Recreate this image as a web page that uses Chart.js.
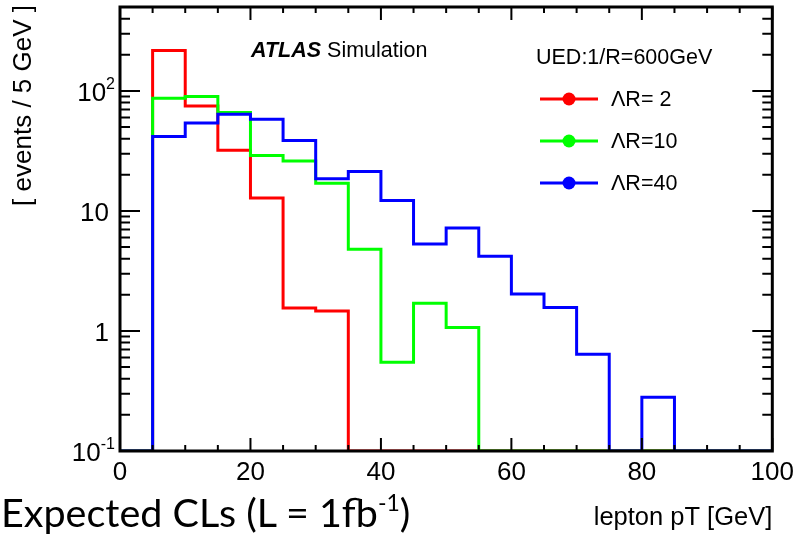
<!DOCTYPE html>
<html>
<head>
<meta charset="utf-8">
<script src="https://cdn.jsdelivr.net/npm/chart.js@4.4.1/dist/chart.umd.min.js"></script>
<style>
  html,body{margin:0;padding:0;background:#fff;}
  #wrap{position:relative;width:800px;height:534px;overflow:hidden;}
  #c{position:absolute;left:0;top:0;}
  #slideText{position:absolute;left:1px;top:489px;font-family:Lato,"Open Sans",sans-serif;font-size:39.5px;line-height:46px;color:#000;white-space:nowrap;}
  #slideText sup{font-size:23px;line-height:0;vertical-align:16px;}
</style>
</head>
<body>
<div id="wrap">
  <canvas id="c" width="800" height="534"></canvas>
  <div id="slideText">Expected CLs (L = 1fb<sup>-1</sup>)</div>
</div>
<script>
// bin edges of lepton pT [GeV], 5 GeV bins
const BIN_EDGES=[0,5,10,15,20,25,30,35,40,45,50,55,60,65,70,75,80,85,90,95,100];
// events / 5 GeV per bin (0 = empty bin)
const LAMBDA_R2 =[0,217,75,32,12.8,1.55,1.47,0,0,0,0,0,0,0,0,0,0,0,0,0];
const LAMBDA_R10=[0,87,90,66,29,26,17,4.8,0.55,1.7,1.07,0,0,0,0,0,0,0,0,0];
const LAMBDA_R40=[0,41.6,54,64,58,38.6,18.5,21.3,12.2,5.3,7.2,4.2,2.03,1.57,0.64,0,0.28,0,0,0];
const SERIES_LABELS=['\u039BR= 2','\u039BR=10','\u039BR=40'];
const SERIES_COLORS=['#ff0000','#00ff00','#0000ff'];
const X_MIN=0, X_MAX=100, Y_MIN=0.1, Y_MAX=500;
const Y_LABELS=[{v:0.1,b:'10',e:'-1'},{v:1,b:'1'},{v:10,b:'10'},{v:100,b:'10',e:'2'}];
const FONT='"Liberation Sans", Arial, Helvetica, sans-serif';

function histPoints(vals){
  // step line: value of bin i held from edge i to edge i+1; empty bins sit on the axis floor
  return BIN_EDGES.map((x,i)=>({x, y:Math.max(vals[Math.min(i,vals.length-1)]||0, Y_MIN)}));
}

const rootFrame={
  id:'rootFrame',
  afterDatasetsDraw(chart){
    const {ctx, chartArea:a, scales:{x,y}}=chart;
    ctx.save();
    // inward ticks, ROOT style
    ctx.strokeStyle='#000'; ctx.lineWidth=2;
    ctx.beginPath();
    for(let v=X_MIN; v<=X_MAX; v+=5){
      const px=x.getPixelForValue(v), len=v%20===0?13:6;
      ctx.moveTo(px,a.bottom); ctx.lineTo(px,a.bottom-len);
      ctx.moveTo(px,a.top); ctx.lineTo(px,a.top+len);
    }
    for(let d=Y_MIN; d<Y_MAX; d*=10){
      for(let m=1; m<=9; m++){
        const v=d*m; if(v>Y_MAX*1.0001) break;
        const py=y.getPixelForValue(v), len=m===1?20:10;
        ctx.moveTo(a.left,py); ctx.lineTo(a.left+len,py);
        ctx.moveTo(a.right,py); ctx.lineTo(a.right-len,py);
      }
    }
    ctx.stroke();
    ctx.lineWidth=3;
    ctx.strokeRect(a.left,a.top,a.right-a.left,a.bottom-a.top);

    ctx.fillStyle='#000';
    // y tick labels with exponents
    ctx.textBaseline='middle';
    Y_LABELS.forEach(l=>{
      const py=y.getPixelForValue(l.v)+3;
      if(l.e){
        ctx.font=`16px ${FONT}`; ctx.textAlign='right';
        const ew=ctx.measureText(l.e).width;
        ctx.fillText(l.e,a.left-5,py-9);
        ctx.font=`26px ${FONT}`;
        ctx.fillText(l.b,a.left-5-ew,py);
      }else{
        ctx.font=`26px ${FONT}`; ctx.textAlign='right';
        ctx.fillText(l.b,a.left-11,py);
      }
    });
    // axis titles
    ctx.font=`25.5px ${FONT}`;
    ctx.textAlign='right'; ctx.textBaseline='alphabetic';
    ctx.fillText('lepton pT [GeV]',a.right,525);
    ctx.save();
    ctx.font=`26px ${FONT}`;
    ctx.translate(31,5); ctx.rotate(-Math.PI/2);
    ctx.textAlign='right'; ctx.textBaseline='alphabetic';
    ctx.fillText('[ events / 5 GeV ]',0,0);
    ctx.restore();
    // ATLAS label
    ctx.textAlign='left';
    ctx.font=`italic bold 21.5px ${FONT}`;
    ctx.fillText('ATLAS',251,57);
    const aw=ctx.measureText('ATLAS ').width;
    ctx.font=`21.5px ${FONT}`;
    ctx.fillText('Simulation',251+aw,57);
    // legend
    ctx.font=`21.5px ${FONT}`;
    ctx.fillText('UED:1/R=600GeV',536,64);
    const rows=[99,141,183];
    chart.data.datasets.forEach((ds,i)=>{
      const ry=rows[i];
      ctx.strokeStyle=ds.borderColor; ctx.lineWidth=3;
      ctx.beginPath(); ctx.moveTo(540,ry); ctx.lineTo(598,ry); ctx.stroke();
      ctx.fillStyle=ds.borderColor;
      ctx.beginPath(); ctx.arc(569,ry,6.5,0,Math.PI*2); ctx.fill();
      ctx.fillStyle='#000'; ctx.textBaseline='middle';
      ctx.fillText(ds.label,611,ry+1);
    });
    ctx.restore();
  }
};

const allSeries=[LAMBDA_R2,LAMBDA_R10,LAMBDA_R40];
new Chart(document.getElementById('c').getContext('2d'),{
  type:'line',
  data:{datasets:allSeries.map((vals,i)=>({
    label:SERIES_LABELS[i], data:histPoints(vals),
    borderColor:SERIES_COLORS[i], backgroundColor:SERIES_COLORS[i],
    borderWidth:3, stepped:'before', pointRadius:0, fill:false, order:2-i
  }))},
  options:{
    responsive:false, animation:false,
    layout:{padding:{top:7,right:23,left:0,bottom:0}},
    plugins:{legend:{display:false},tooltip:{enabled:false}},
    scales:{
      x:{type:'linear',min:X_MIN,max:X_MAX,
        grid:{display:false,drawTicks:false},border:{display:false},
        ticks:{stepSize:20,color:'#000',font:{family:FONT,size:26},padding:6,maxRotation:0,autoSkip:false},
        afterFit(s){s.height=83;}},
      y:{type:'logarithmic',min:Y_MIN,max:Y_MAX,
        grid:{display:false,drawTicks:false},border:{display:false},
        ticks:{display:false},
        afterFit(s){s.width=120;}}
    }
  },
  plugins:[rootFrame]
});
</script>
</body>
</html>
